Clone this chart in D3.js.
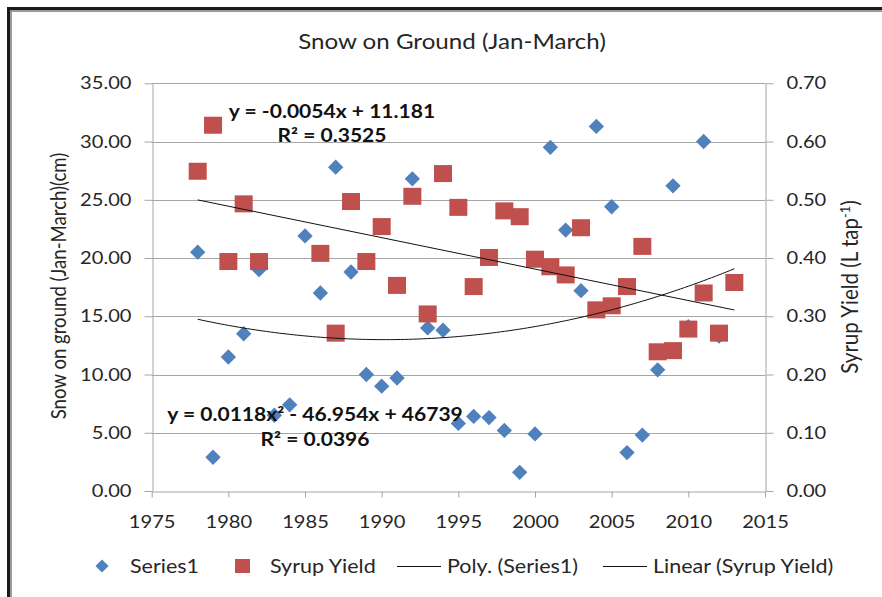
<!DOCTYPE html>
<html>
<head>
<meta charset="utf-8">
<script src="https://cdn.jsdelivr.net/npm/d3@7"></script>
<style>
  html, body { margin: 0; padding: 0; background: #fff; }
  svg { display: block; font-family: Lato, "Open Sans", sans-serif; }
</style>
</head>
<body>
<svg id="chart" width="882" height="597"></svg>
<script>
// Snow on ground, Jan–March mean depth (cm), by year
const snowYears = [1978,1979,1980,1981,1982,1983,1984,1985,1986,1987,1988,1989,1990,1991,1992,1993,1994,1995,1996,1997,1998,1999,2000,2001,2002,2003,2004,2005,2006,2007,2008,2009,2010,2011,2012,2013];
const snowDepth = [20.5,2.9,11.5,13.5,19.0,6.5,7.4,21.9,17.0,27.8,18.8,10.0,9.0,9.7,26.8,14.0,13.8,5.8,6.4,6.3,5.2,1.6,4.9,29.5,22.4,17.2,31.3,24.4,3.3,4.8,10.4,26.2,14.1,30.0,13.3,17.9];

// Syrup yield (L per tap), by year
const syrupYears = [1978,1979,1980,1981,1982,1986,1987,1988,1989,1990,1991,1992,1993,1994,1995,1996,1997,1998,1999,2000,2001,2002,2003,2004,2005,2006,2007,2008,2009,2010,2011,2012,2013];
const syrupYield = [0.549,0.628,0.394,0.493,0.394,0.408,0.271,0.497,0.394,0.454,0.353,0.506,0.304,0.545,0.487,0.351,0.401,0.481,0.471,0.398,0.385,0.371,0.452,0.311,0.318,0.351,0.420,0.239,0.241,0.278,0.340,0.271,0.358];

// Linear trend for syrup yield, as labelled: y = slope*x + intercept
const syrupTrend = [-0.0054, 11.181];

// Axis ticks
const xTicks = [1975,1980,1985,1990,1995,2000,2005,2010,2015];
const leftTicks = [0,5,10,15,20,25,30,35];
const rightTicks = [0,0.1,0.2,0.3,0.4,0.5,0.6,0.7];

// Trendline labels
const linearLabel = ["y = -0.0054x + 11.181", "R² = 0.3525"];
const polyLabel = ["y = 0.0118x² - 46.954x + 46739", "R² = 0.0396"];

const svg = d3.select("#chart");
const plot = { left: 151.7, right: 765, top: 83.3, bottom: 491 };

const x = d3.scaleLinear().domain([1975, 2015]).range([plot.left, plot.right]);
const yL = d3.scaleLinear().domain([0, 35]).range([plot.bottom, plot.top]);
const yR = d3.scaleLinear().domain([0, 0.7]).range([plot.bottom, plot.top]);

const textColor = "#262626";
const gridColor = "#a6a6a6";
const blue = "#4F81BD";
const red = "#C0504D";
const SX = 1.15; // horizontal widening of glyphs

// Move a text's x/y into a transform so the glyphs can be widened in place
function widen(sel, sx = SX) {
  sel.each(function () {
    const t = d3.select(this);
    const tx = +t.attr("x") || 0, ty = +t.attr("y") || 0;
    t.attr("x", 0).attr("y", 0).attr("transform", `translate(${tx},${ty}) scale(${sx},1)`);
  });
  return sel;
}

// Frame around the chart area
svg.append("rect").attr("x", 8.5).attr("y", 8.5).attr("width", 900).attr("height", 700)
  .attr("fill", "none").attr("stroke", "#1a1a1a").attr("stroke-width", 3);
svg.append("rect").attr("x", 11).attr("y", 11).attr("width", 900).attr("height", 700)
  .attr("fill", "none").attr("stroke", "#9a9a9a").attr("stroke-width", 2);

// Title
widen(svg.append("text").attr("x", 452).attr("y", 49).attr("text-anchor", "middle")
  .attr("font-size", 21).attr("fill", textColor).text("Snow on Ground (Jan-March)"));

// Horizontal gridlines
svg.append("g").selectAll("line").data(leftTicks.filter(d => d > 0)).join("line")
  .attr("x1", plot.left).attr("x2", plot.right)
  .attr("y1", d => Math.round(yL(d)) + 0.5).attr("y2", d => Math.round(yL(d)) + 0.5)
  .attr("stroke", gridColor).attr("stroke-width", 1);

// Axes
function styleAxis(g) {
  g.selectAll("path.domain").attr("stroke", gridColor);
  g.selectAll(".tick line").attr("stroke", gridColor);
  g.selectAll(".tick text").attr("fill", textColor).attr("font-size", 17.5)
    .attr("font-family", "Lato, 'Open Sans', sans-serif");
  widen(g.selectAll(".tick text"));
}

const gx = svg.append("g").attr("transform", `translate(0,${Math.round(plot.bottom) + 0.5})`)
  .call(d3.axisBottom(x).tickValues(xTicks).tickFormat(d3.format("d")).tickSize(6).tickSizeOuter(0).tickPadding(18));
styleAxis(gx);

const gl = svg.append("g").attr("transform", `translate(${Math.round(plot.left) + 0.5},0)`)
  .call(d3.axisLeft(yL).tickValues(leftTicks).tickFormat(d3.format(".2f")).tickSize(8).tickSizeOuter(0).tickPadding(13));
styleAxis(gl);

const gr = svg.append("g").attr("transform", `translate(${Math.round(plot.right) + 0.5},0)`)
  .call(d3.axisRight(yR).tickValues(rightTicks).tickFormat(d3.format(".2f")).tickSize(8).tickSizeOuter(0).tickPadding(13));
styleAxis(gr);

// Axis titles (rotated; widened across the reading direction)
svg.append("text").attr("transform", "translate(66,286) rotate(-90) scale(1,1.1)")
  .attr("text-anchor", "middle").attr("font-size", 18.6).attr("fill", textColor)
  .text("Snow on ground (Jan-March)(cm)");
const rt = svg.append("text").attr("transform", "translate(858,287) rotate(-90) scale(1,1.1)")
  .attr("text-anchor", "middle").attr("font-size", 20.5).attr("fill", textColor);
rt.append("tspan").text("Syrup Yield (L tap");
rt.append("tspan").attr("dy", -7).attr("font-size", 13).text("-1");
rt.append("tspan").attr("dy", 7).text(")");

// Series1 markers (diamonds)
const diamond = d3.symbol().type(d3.symbolDiamond2).size(150);
svg.append("g").selectAll("path").data(snowYears.map((yr, i) => [yr, snowDepth[i]])).join("path")
  .attr("d", diamond)
  .attr("transform", d => `translate(${x(d[0])},${yL(d[1])})`)
  .attr("fill", blue);

// Syrup yield markers (squares)
const sqW = 18, sqH = 17;
svg.append("g").selectAll("rect").data(syrupYears.map((yr, i) => [yr, syrupYield[i]])).join("rect")
  .attr("x", d => x(d[0]) - sqW / 2).attr("y", d => yR(d[1]) - sqH / 2)
  .attr("width", sqW).attr("height", sqH)
  .attr("fill", red);

// Quadratic least-squares fit of snow depth on year (centred for stability)
function quadFit(xs, ys) {
  const mx = d3.mean(xs);
  const s = [0, 0, 0, 0, 0], t = [0, 0, 0];
  xs.forEach((xv, i) => {
    const u = xv - mx, yv = ys[i];
    for (let k = 0; k < 5; k++) s[k] += Math.pow(u, k);
    for (let k = 0; k < 3; k++) t[k] += yv * Math.pow(u, k);
  });
  const A = [[s[0], s[1], s[2]], [s[1], s[2], s[3]], [s[2], s[3], s[4]]];
  const det = m => m[0][0]*(m[1][1]*m[2][2]-m[1][2]*m[2][1]) - m[0][1]*(m[1][0]*m[2][2]-m[1][2]*m[2][0]) + m[0][2]*(m[1][0]*m[2][1]-m[1][1]*m[2][0]);
  const D = det(A);
  const coef = [0, 1, 2].map(c => det(A.map((row, r) => row.map((v, j) => j === c ? t[r] : v))) / D);
  return xv => { const u = xv - mx; return coef[0] + coef[1] * u + coef[2] * u * u; };
}
const polyFn = quadFit(snowYears, snowDepth);
const x0 = d3.min(snowYears), x1 = d3.max(snowYears);
const polyPts = d3.range(x0, x1 + 0.001, 0.25).map(v => [v, polyFn(v)]);
svg.append("path").datum(polyPts)
  .attr("d", d3.line().x(d => x(d[0])).y(d => yL(d[1])))
  .attr("fill", "none").attr("stroke", "#111").attr("stroke-width", 1);

// Linear syrup-yield trend
const s0 = d3.min(syrupYears), s1 = d3.max(syrupYears);
const linPts = [s0, s1].map(v => [v, syrupTrend[0] * v + syrupTrend[1]]);
svg.append("path").datum(linPts)
  .attr("d", d3.line().x(d => x(d[0])).y(d => yR(d[1])))
  .attr("fill", "none").attr("stroke", "#111").attr("stroke-width", 1);

// Trendline equations
function eqLabel(lines, cx, y0, y1) {
  const g = svg.append("g").attr("font-weight", "bold").attr("font-size", 18.3).attr("fill", "#111").attr("text-anchor", "middle");
  widen(g.append("text").attr("x", cx).attr("y", y0).text(lines[0]));
  widen(g.append("text").attr("x", cx).attr("y", y1).text(lines[1]));
}
eqLabel(linearLabel, 332, 118, 142);
eqLabel(polyLabel, 315, 421, 446);

// Legend
const ly = 566;
svg.append("path").attr("d", d3.symbol().type(d3.symbolDiamond2).size(110))
  .attr("transform", `translate(102,${ly})`).attr("fill", blue);
svg.append("rect").attr("x", 235).attr("y", ly - 7).attr("width", 15).attr("height", 14).attr("fill", red);
svg.append("line").attr("x1", 397).attr("x2", 441).attr("y1", ly + 0.5).attr("y2", ly + 0.5).attr("stroke", "#111");
svg.append("line").attr("x1", 603).attr("x2", 647).attr("y1", ly + 0.5).attr("y2", ly + 0.5).attr("stroke", "#111");
const legendItems = [[130, "Series1"], [270, "Syrup Yield"], [447, "Poly. (Series1)"], [653, "Linear (Syrup Yield)"]];
widen(svg.append("g").selectAll("text").data(legendItems).join("text")
  .attr("x", d => d[0]).attr("y", ly + 6.5).attr("font-size", 18.7).attr("fill", textColor)
  .text(d => d[1]));
</script>
</body>
</html>
